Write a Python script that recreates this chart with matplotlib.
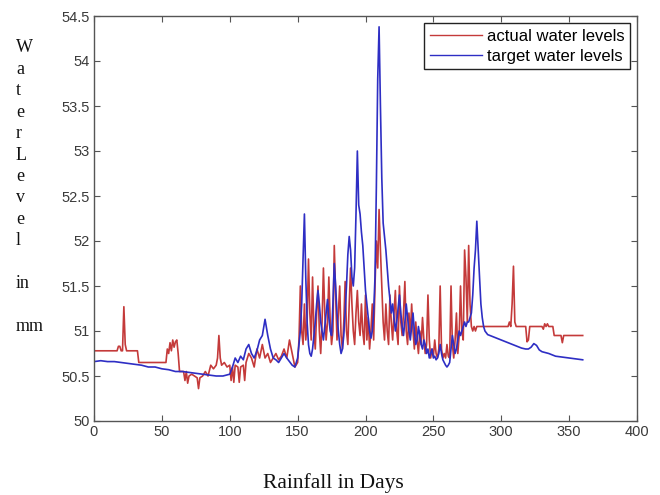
import matplotlib
matplotlib.use("Agg")
import matplotlib.pyplot as plt

# ---------------- data ----------------
actual_days_early = [0, 17, 18, 19, 20, 21, 22, 23, 24, 32, 33, 53, 54, 55, 56, 57, 58, 59, 60, 61, 62, 63,
                     66, 67, 68, 69, 70, 72, 74, 76, 77, 78, 80, 82, 84, 86, 88, 90, 91, 92, 93, 94, 96,
                     98, 100, 101, 102, 103, 104, 106, 107, 108, 110, 111, 112, 114, 116, 118, 120, 122,
                     124, 126, 128, 130, 132, 134, 136, 138, 140, 142, 144, 146, 148]
actual_early = [50.78, 50.78, 50.83, 50.83, 50.78, 50.78, 51.27, 50.85, 50.78, 50.78, 50.65, 50.65, 50.80,
                50.75, 50.87, 50.78, 50.90, 50.82, 50.88, 50.90, 50.75, 50.55, 50.55, 50.45, 50.55, 50.42,
                50.50, 50.52, 50.50, 50.48, 50.36, 50.48, 50.50, 50.55, 50.50, 50.62, 50.58, 50.62, 50.70,
                50.95, 50.70, 50.62, 50.65, 50.60, 50.62, 50.45, 50.60, 50.43, 50.62, 50.60, 50.43, 50.60,
                50.62, 50.45, 50.65, 50.75, 50.70, 50.60, 50.80, 50.70, 50.85, 50.70, 50.75, 50.65, 50.70,
                50.75, 50.68, 50.72, 50.80, 50.70, 50.90, 50.75, 50.60]
actual_mid_start = 150
actual_mid = [50.65, 50.90, 51.50, 51.00, 50.85, 51.30, 50.90, 51.10, 51.80, 51.20,
              50.90, 51.60, 51.00, 50.80, 51.20, 51.50, 51.00, 50.75, 51.10, 51.70,
              51.20, 50.90, 51.10, 51.60, 51.10, 50.85, 51.00, 51.95, 51.40, 50.90,
              51.20, 51.50, 50.95, 50.80, 51.10, 51.55, 51.00, 50.85, 51.30, 51.70,
              51.30, 51.00, 50.85, 51.20, 51.45, 51.10, 50.95, 51.30, 51.00, 50.85,
              51.40, 50.90, 51.15, 50.80, 51.00, 51.30, 50.90, 51.50, 52.00, 51.70,
              52.35, 51.90, 51.50, 51.10, 50.90, 51.30, 51.00, 50.85, 51.40, 51.10,
              50.90, 51.20, 51.45, 51.00, 50.85, 51.50, 51.10, 50.95, 51.20, 51.55,
              51.00, 50.85, 51.20, 50.95, 51.30, 51.00, 50.80, 51.10, 50.90, 50.75,
              51.00, 50.85, 51.15, 50.90, 50.75, 50.85, 51.40, 50.90, 50.70, 50.80,
              50.72, 50.90, 50.75, 50.70, 50.80, 51.50, 50.80, 50.70, 50.75, 50.70,
              50.85, 50.72, 50.70, 51.50, 50.85, 50.70, 50.90, 51.20, 50.75, 50.95,
              51.50, 51.00, 50.90, 51.90, 51.60, 51.10, 51.95, 51.30, 51.05, 51.00,
              51.05, 51.00, 51.05, 51.05, 51.05, 51.05, 51.05, 51.05, 51.05, 51.05, 51.05]
actual_days_late = [305, 306, 307, 308, 309, 310, 311, 318, 319, 320, 321, 330, 331, 332, 333, 334, 335,
                    338, 339, 344, 345, 346, 360]
actual_late = [51.05, 51.10, 51.05, 51.30, 51.72, 51.10, 51.05, 51.05, 50.88, 50.90, 51.05, 51.05, 51.02,
               51.08, 51.05, 51.08, 51.05, 51.05, 50.95, 50.95, 50.87, 50.95, 50.95]

target_days_early = [0, 5, 10, 15, 20, 25, 30, 35, 40, 45, 50, 55, 60, 65, 70, 75, 80, 85, 90, 95, 100,
                     102, 104, 106, 108, 110, 112, 114, 116, 118, 120, 122, 124, 126, 128, 130, 132, 134,
                     136, 138, 140, 142, 144, 146, 148]
target_early = [50.66, 50.67, 50.66, 50.66, 50.65, 50.64, 50.63, 50.62, 50.60, 50.60, 50.58, 50.57, 50.55,
                50.55, 50.54, 50.53, 50.52, 50.51, 50.50, 50.50, 50.52, 50.60, 50.70, 50.65, 50.72, 50.68,
                50.80, 50.85, 50.75, 50.70, 50.78, 50.90, 50.95, 51.13, 50.95, 50.80, 50.70, 50.68, 50.65,
                50.70, 50.75, 50.70, 50.66, 50.62, 50.60]
target_mid_start = 150
target_mid = [50.70, 50.85, 51.00, 51.30, 51.80, 52.30, 51.60, 51.10, 50.85, 50.75,
              50.72, 50.80, 50.95, 51.10, 51.30, 51.45, 51.30, 51.10, 51.00, 50.90,
              51.05, 51.20, 51.35, 51.15, 51.00, 50.95, 51.30, 51.75, 51.50, 51.20,
              51.00, 50.85, 50.75, 50.80, 50.95, 51.20, 51.50, 51.85, 52.05, 51.90,
              51.60, 51.50, 51.70, 52.30, 53.00, 52.40, 52.30, 52.10, 51.95, 51.70,
              51.45, 51.30, 51.15, 51.00, 50.92, 51.00, 51.20, 51.60, 52.60, 53.80,
              54.38, 53.50, 52.70, 52.20, 52.05, 51.90, 51.70, 51.50, 51.35, 51.20,
              51.30, 51.15, 51.00, 51.10, 51.25, 51.40, 51.20, 51.05, 50.95, 51.10,
              51.30, 51.15, 51.00, 50.90, 51.05, 51.20, 51.00, 50.85, 50.90, 51.05,
              50.95, 50.85, 50.80, 50.90, 50.85, 50.75, 50.80, 50.70, 50.75, 50.80,
              50.70, 50.72, 50.68, 50.70, 50.75, 50.85, 50.75, 50.68, 50.65, 50.62,
              50.60, 50.62, 50.65, 50.80, 50.95, 50.85, 50.75, 50.80, 50.90, 51.00,
              50.95, 51.00, 51.05, 51.10, 51.05, 51.10, 51.10, 51.15, 51.20, 51.40,
              51.70, 51.90, 52.22, 51.90, 51.60, 51.30, 51.15, 51.05, 51.00, 50.98, 50.96]
target_days_late = [295, 300, 305, 310, 315, 318, 320, 322, 324, 326, 328, 330, 335, 340, 345, 350, 355, 360]
target_late = [50.93, 50.90, 50.87, 50.84, 50.81, 50.80, 50.80, 50.82, 50.86, 50.84, 50.79, 50.77, 50.75,
               50.72, 50.71, 50.70, 50.69, 50.68]

series_labels = ["actual water levels", "target water levels"]
x_ticks = [0, 50, 100, 150, 200, 250, 300, 350, 400]
y_ticks = [50, 50.5, 51, 51.5, 52, 52.5, 53, 53.5, 54, 54.5]
y_tick_labels = ["50", "50.5", "51", "51.5", "52", "52.5", "53", "53.5", "54", "54.5"]
ylabel_lines = ["W", "a", "t", "e", "r", "L", "e", "v", "e", "l", "", "in", "", "mm"]
xlabel_text = "Rainfall in Days"

# ---------------- assemble ----------------
actual_days = (actual_days_early
               + list(range(actual_mid_start, actual_mid_start + len(actual_mid)))
               + actual_days_late)
actual_vals = actual_early + actual_mid + actual_late
target_days = (target_days_early
               + list(range(target_mid_start, target_mid_start + len(target_mid)))
               + target_days_late)
target_vals = target_early + target_mid + target_late

# ---------------- plot ----------------
fig = plt.figure(figsize=(6.6, 4.95), dpi=100)
ax = fig.add_axes([94 / 660, 74 / 495, 543 / 660, 405 / 495])

ax.plot(actual_days, actual_vals, color="#c43a3a", lw=1.2, label=series_labels[0])
ax.plot(target_days, target_vals, color="#2e2ec4", lw=1.2, label=series_labels[1])

ax.set_xlim(0, 400)
ax.set_ylim(50, 54.5)
ax.set_xticks(x_ticks)
ax.set_yticks(y_ticks)
ax.set_yticklabels(y_tick_labels)
for lab in ax.get_xticklabels() + ax.get_yticklabels():
    lab.set_fontfamily("Liberation Sans")
    lab.set_fontsize(10.5)
    lab.set_color("#3a3a3a")
ax.tick_params(direction="in", top=True, right=True, length=4, width=0.8, color="#555555", pad=3)
for s in ax.spines.values():
    s.set_color("#555555")
    s.set_linewidth(1.0)

leg = ax.legend(loc="upper right", handlelength=3.1, handletextpad=0.3, borderpad=0.35,
                labelspacing=0.3, fancybox=False, framealpha=1, edgecolor="#222222",
                prop=dict(family="Liberation Sans", size=12), borderaxespad=0.4)
leg.get_frame().set_linewidth(1.0)
for line in leg.get_lines():
    line.set_linewidth(1.0)

# vertical stacked y label
y0 = 495 - 48
pitch = 21.4
for i, t in enumerate(ylabel_lines):
    if t:
        fig.text(16 / 660, (y0 - i * pitch) / 495, t, family="Liberation Serif", size=13,
                 ha="left", va="center", color="#111111")

fig.text(333 / 660, (495 - 483) / 495, xlabel_text, family="Liberation Serif", size=15.5,
         ha="center", va="center", color="#111111")

fig.savefig("out.png", dpi=100)
